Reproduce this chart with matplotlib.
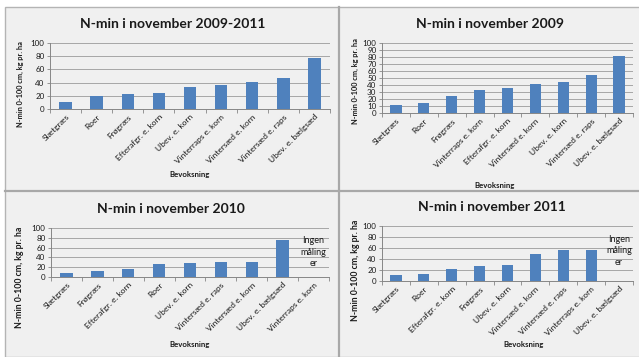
import matplotlib
matplotlib.use('Agg')
import matplotlib.pyplot as plt
from matplotlib.patches import Rectangle
from matplotlib.lines import Line2D

plt.rcParams['font.family'] = ['Lato', 'DejaVu Sans']

# data
cats_all = ['Slætgræs', 'Roer', 'Frøgræs', 'Efterafgr. e. korn', 'Ubev. e. korn',
            'Vinterraps e. korn', 'Vintersæd e. korn', 'Vintersæd e. raps', 'Ubev. e. bælgsæd']
vals_all = [11, 20, 22, 25, 34, 37, 41, 47, 78]

cats_2009 = ['Slætgræs', 'Roer', 'Frøgræs', 'Vinterraps e. korn', 'Efterafgr. e. korn',
             'Vintersæd e. korn', 'Ubev. e. korn', 'Vintersæd e. raps', 'Ubev. e. bælgsæd']
vals_2009 = [11, 15, 25, 33, 36, 42, 44, 55, 82]

cats_2010 = ['Slætgræs', 'Frøgræs', 'Efterafgr. e. korn', 'Roer', 'Ubev. e. korn',
             'Vintersæd e. raps', 'Vintersæd e. korn', 'Ubev. e. bælgsæd', 'Vinterraps e. korn']
vals_2010 = [9, 12, 17, 26, 29, 30, 31, 76]

cats_2011 = ['Slætgræs', 'Roer', 'Efterafgr. e. korn', 'Frøgræs', 'Ubev. e. korn',
             'Vintersæd e. korn', 'Vintersæd e. raps', 'Vinterraps e. korn', 'Ubev. e. bælgsæd']
vals_2011 = [11, 13, 22, 27, 30, 49, 56, 57]

W, H = 639, 357
BLUE = '#4f81bd'
GRID = '#a6a6a6'
INK = '#1a1a1a'


def box(l, t, r, b):
    return [l / W, 1 - b / H, (r - l) / W, (b - t) / H]


fig = plt.figure(figsize=(W / 100, H / 100), dpi=100)
fig.patch.set_facecolor('white')

# panel background + dividers (behind the axes)
fig.patches.append(Rectangle((5 / W, 0), 1, 1 - 7 / H, transform=fig.transFigure,
                             facecolor='#f0f0f0', edgecolor='#b4b4b4', lw=1.0, zorder=-5))
fig.lines.append(Line2D([339 / W, 339 / W], [0, 1 - 7 / H], transform=fig.transFigure,
                        color='#a8a8a8', lw=1.6, zorder=-4))
fig.lines.append(Line2D([5 / W, 1], [1 - 191 / H, 1 - 191 / H], transform=fig.transFigure,
                        color='#a8a8a8', lw=1.6, zorder=-4))


def panel(rect, cats, vals, step, title, tpos, ylpos, xlpos, ylsize=5.3, xmax=None, note=None):
    ax = fig.add_axes(box(*rect))
    ax.set_facecolor('none')
    ax.bar(range(len(vals)), vals, width=0.4, color=BLUE, zorder=3)
    ax.set_ylim(0, 100)
    ax.set_yticks(range(0, 101, step))
    ax.set_xlim(-0.5, xmax if xmax is not None else len(cats) - 0.5)
    ax.set_xticks(range(len(cats)))
    ax.set_xticklabels(cats, rotation=45, ha='right', rotation_mode='anchor',
                       fontsize=6, color=INK)
    ax.set_xticks([i + 0.5 for i in range(-1, len(cats))], minor=True)
    ax.tick_params(axis='x', which='major', length=0, pad=3)
    ax.tick_params(axis='x', which='minor', length=3, color='#868686', width=0.6)
    ax.tick_params(axis='y', length=2.5, color='#868686', width=0.6, labelsize=5.8,
                   labelcolor=INK, pad=1.5)
    ax.grid(axis='y', color=GRID, lw=0.7, zorder=0)
    for s in ['top', 'right']:
        ax.spines[s].set_visible(False)
    for s in ['left', 'bottom']:
        ax.spines[s].set_color('#868686')
        ax.spines[s].set_linewidth(0.7)
    if note is not None:
        ax.text(note[0], note[1], 'Ingen\nmåling\ner', ha='center', va='center',
                fontsize=6.5, linespacing=1.35, color=INK, zorder=4)
    fig.text(tpos[0] / W, 1 - tpos[1] / H, title, ha='center', va='center',
             fontsize=10, fontweight='bold', color=INK)
    fig.text(ylpos[0] / W, 1 - ylpos[1] / H, 'N-min 0-100 cm, kg pr. ha', rotation=90,
             ha='center', va='center', fontsize=ylsize, fontweight='bold', color=INK)
    fig.text(xlpos[0] / W, 1 - xlpos[1] / H, 'Bevoksning', ha='center', va='center',
             fontsize=5.6, fontweight='bold', color=INK)
    return ax


panel((50, 43, 330, 109), cats_all, vals_all, 20, 'N-min i november 2009-2011',
      (173, 24), (20, 84), (190, 175), xmax=8.22)
panel((382, 43, 633, 113), cats_2009, vals_2009, 10, 'N-min i november 2009',
      (490, 24), (355, 81), (495, 185))
panel((51, 228, 329, 277), cats_2010, vals_2010, 20, 'N-min i november 2010',
      (171, 209), (20, 277), (190, 345), ylsize=6.3, note=(8, 51))
panel((382, 226, 633, 281), cats_2011, vals_2011, 20, 'N-min i november 2011',
      (492, 207), (355, 270), (524, 345), ylsize=6.3, note=(8, 55))

fig.savefig('out.png', dpi=100, facecolor=fig.get_facecolor())
